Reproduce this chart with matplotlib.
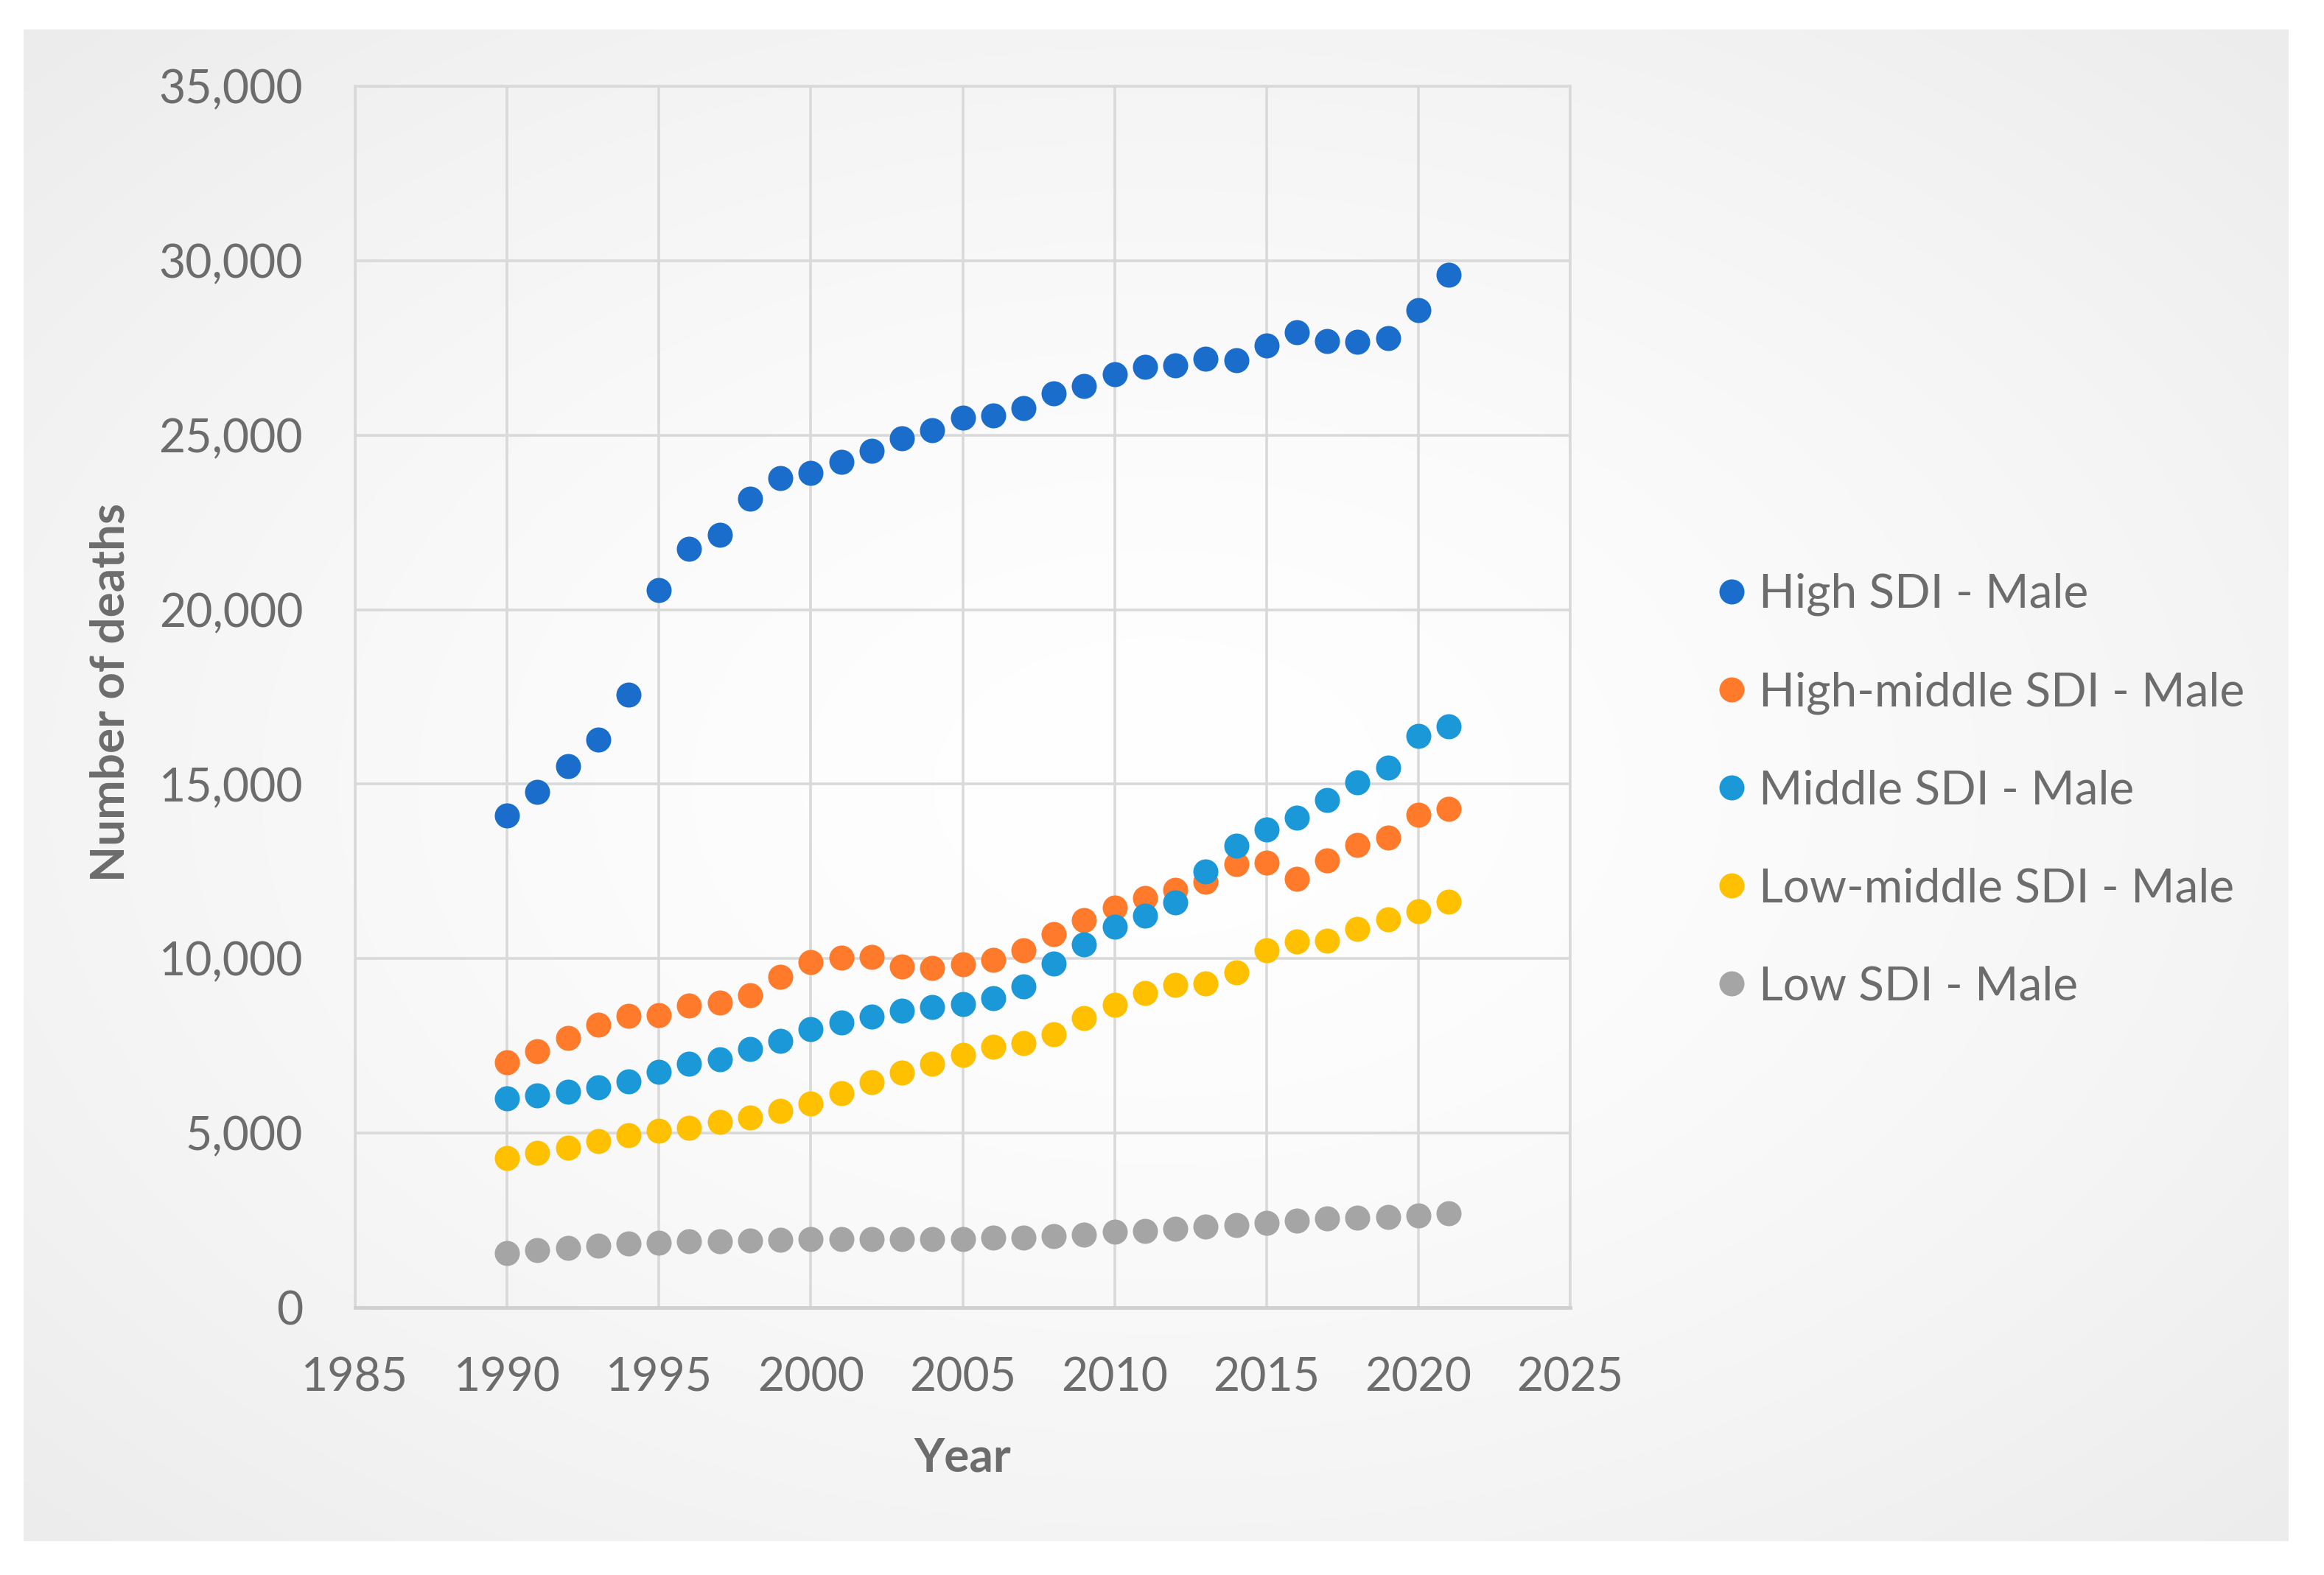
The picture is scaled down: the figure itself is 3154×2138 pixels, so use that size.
import numpy as np
import matplotlib
matplotlib.use("Agg")
import matplotlib.pyplot as plt
from matplotlib.ticker import FuncFormatter, MultipleLocator

years = list(range(1990, 2022))

high_sdi = [14100, 14770, 15510, 16280, 17560, 20560, 21740, 22150, 23170, 23760,
            23910, 24230, 24560, 24920, 25140, 25510, 25570, 25770, 26190, 26410,
            26740, 26950, 26990, 27180, 27150, 27560, 27950, 27690, 27670, 27790,
            28590, 29590]
high_middle_sdi = [7030, 7350, 7730, 8100, 8360, 8380, 8650, 8730, 8960, 9470,
                   9910, 10020, 10050, 9770, 9740, 9830, 9970, 10230, 10710, 11110,
                   11460, 11730, 11960, 12200, 12700, 12740, 12280, 12810, 13260, 13470,
                   14120, 14300]
middle_sdi = [6000, 6090, 6180, 6320, 6490, 6750, 6980, 7120, 7410, 7640,
              7980, 8180, 8330, 8500, 8610, 8700, 8870, 9210, 9850, 10400,
              10920, 11230, 11620, 12490, 13240, 13700, 14040, 14540, 15060, 15480,
              16380, 16650]
low_middle_sdi = [4290, 4430, 4580, 4770, 4940, 5060, 5150, 5320, 5440, 5630,
                  5840, 6150, 6460, 6740, 6980, 7240, 7470, 7580, 7840, 8300,
                  8670, 9010, 9240, 9280, 9610, 10230, 10490, 10520, 10860, 11120,
                  11350, 11640]
low_sdi = [1570, 1650, 1720, 1780, 1840, 1860, 1890, 1890, 1920, 1940,
           1970, 1970, 1970, 1970, 1970, 1970, 2010, 2010, 2050, 2090,
           2170, 2200, 2260, 2320, 2370, 2430, 2490, 2550, 2570, 2600,
           2640, 2700]

series_labels = ["High SDI - Male", "High-middle SDI - Male", "Middle SDI - Male",
                 "Low-middle SDI - Male", "Low SDI - Male"]
series_values = [high_sdi, high_middle_sdi, middle_sdi, low_middle_sdi, low_sdi]
series_colors = ["#1a6dcb", "#ff7b2b", "#1b98d8", "#ffc000", "#a5a5a5"]

x_ticks = [1985, 1990, 1995, 2000, 2005, 2010, 2015, 2020, 2025]

plt.rcParams['font.family'] = ['Lato', 'DejaVu Sans']
TXT = "#6c6c6c"
GRID = "#d9d9d9"
FS = 45

W, H = 3154, 2138
fig = plt.figure(figsize=(W / 100, H / 100), dpi=100)
fig.patch.set_facecolor("white")

# background panel with soft radial gradient
bg = fig.add_axes([32 / W, 1 - 2092 / H, (3106 - 32) / W, (2092 - 40) / H], zorder=-10)
ny, nx = 400, 600
yy, xx = np.mgrid[0:ny, 0:nx]
r = np.sqrt(((xx - nx * 0.5) / (nx * 0.5)) ** 2 + ((yy - ny * 0.5) / (ny * 0.5)) ** 2) / np.sqrt(2)
shade = 1.0 - 0.075 * np.clip(r, 0, 1) ** 1.5
img = np.dstack([shade, shade, shade])
bg.imshow(img, aspect="auto", interpolation="bilinear", extent=(0, 1, 0, 1))
bg.set_axis_off()

ax = fig.add_axes([482 / W, 1 - 1775 / H, (2131 - 482) / W, (1775 - 117) / H])
ax.set_facecolor("none")

for vals, lab, col in zip(series_values, series_labels, series_colors):
    ax.plot(years, vals, linestyle="none", marker="o", markersize=24.5,
            markeredgewidth=0, color=col, label=lab, zorder=3)

ax.set_xlim(1985, 2025)
ax.set_ylim(0, 35000)
ax.set_xticks(x_ticks)
ax.yaxis.set_major_locator(MultipleLocator(5000))
ax.yaxis.set_major_formatter(FuncFormatter(lambda v, p: f"{int(v):,}"))
ax.grid(True, color=GRID, linewidth=2.6, zorder=0)
ax.set_axisbelow(True)
for s in ["left", "right", "top"]:
    ax.spines[s].set_color(GRID)
    ax.spines[s].set_linewidth(2.6)
ax.spines["bottom"].set_color("#d0d0d0")
ax.spines["bottom"].set_linewidth(3.5)
ax.tick_params(axis="both", length=0, labelsize=FS, labelcolor=TXT)
ax.tick_params(axis="y", pad=51)
ax.tick_params(axis="x", pad=48)

fig.text(1306 / W, 1 - 1979 / H, "Year", ha="center", va="center",
         fontsize=FS + 1, fontweight="bold", color=TXT)
fig.text(150 / W, 1 - 940 / H, "Number of deaths", ha="center", va="center",
         rotation=90, fontsize=FS + 1, fontweight="bold", color=TXT)

leg = fig.legend(loc="center left", bbox_to_anchor=(2331 / W, 1 - 1073 / H),
                 frameon=False, fontsize=FS + 1, handlelength=0.6, handletextpad=0.27,
                 labelspacing=1.17, borderpad=0, borderaxespad=0, markerscale=1.0)
for t in leg.get_texts():
    t.set_color(TXT)

fig.savefig("out.png", dpi=100)
